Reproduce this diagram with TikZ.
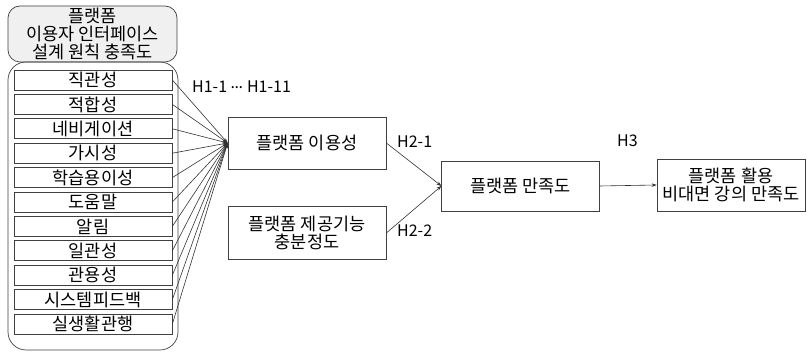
\documentclass[tikz,border=0pt]{standalone}
\usepackage{fontspec}
\setmainfont{Noto Sans CJK KR}
\usetikzlibrary{arrows.meta}
\begin{document}
\begin{tikzpicture}[x=1pt,y=-1pt,
  font=\fontsize{17.5}{18}\selectfont,
  box/.style={draw=black!75, line width=0.7pt, inner sep=0pt, align=center},
  item/.style={box, minimum width=158pt, minimum height=20pt},
  arr/.style={-{Stealth[length=5pt,width=3.5pt]}, draw=black!80, line width=0.6pt},
  lbl/.style={anchor=west, inner sep=0pt, font=\fontsize{16}{17}\selectfont}]
\useasboundingbox (0,0) rectangle (807,352);
\node[box, rounded corners=12pt, fill=black!6, minimum width=169pt, minimum height=56pt] (head) at (92.5,34) {플랫폼\\이용자 인터페이스\\설계 원칙 충족도};
\node[draw=black!75, line width=0.7pt, rounded corners=18pt, minimum width=170pt, minimum height=288pt, inner sep=0pt] (group) at (93,206) {};
\foreach \t [count=\i from 0] in {직관성,적합성,네비게이션,가시성,학습용이성,도움말,알림,일관성,관용성,시스템피드백,실생활관행}{
  \node[item] (b\i) at (93,{80+24.4*\i}) {\t};
}
\node[box, minimum width=158pt, minimum height=52pt] (use) at (307,143) {플랫폼 이용성};
\node[box, minimum width=158pt, minimum height=53pt] (feat) at (307,233) {플랫폼 제공기능\\충분정도};
\node[box, minimum width=157.5pt, minimum height=50pt] (sat) at (520.5,186) {플랫폼 만족도};
\node[box, minimum width=148pt, minimum height=52pt] (fin) at (731,185) {플랫폼 활용\\비대면 강의 만족도};
\foreach \i in {0,...,10}{ \draw[arr] (b\i.east) -- (use.west); }
\draw[arr] (use.east) -- (sat.west);
\draw[arr] (feat.east) -- (sat.west);
\draw[arr] (sat.east) -- (fin.west);
\node[lbl] (l1) at (192,87) {H1-1 \raisebox{0.3em}{.\kern-0.5pt.\kern-0.5pt.}\kern4pt H1-11};
\node[lbl] (l2) at (397,142) {H2-1};
\node[lbl] (l3) at (397,231) {H2-2};
\node[lbl] (l4) at (617,141) {H3};
\end{tikzpicture}
\end{document}
